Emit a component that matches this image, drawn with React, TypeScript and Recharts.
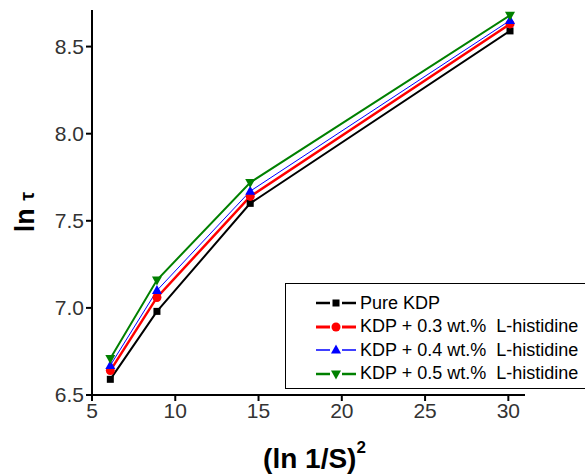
import { LineChart, Line, XAxis, YAxis } from 'recharts'

const lnInvS2 = [6.1, 8.9, 14.5, 30.1]
const pureKdp = [6.59, 6.98, 7.60, 8.59]
const kdp03 = [6.64, 7.06, 7.64, 8.63]
const kdp04 = [6.67, 7.10, 7.67, 8.65]
const kdp05 = [6.71, 7.16, 7.72, 8.68]

const xTicks = [5, 10, 15, 20, 25, 30]
const yTicks = [6.5, 7.0, 7.5, 8.0, 8.5]

const seriesNames = [
  'Pure KDP',
  'KDP + 0.3 wt.%  L-histidine',
  'KDP + 0.4 wt.%  L-histidine',
  'KDP + 0.5 wt.%  L-histidine',
]

const data = lnInvS2.map((x, i) => ({
  x,
  pure: pureKdp[i],
  k03: kdp03[i],
  k04: kdp04[i],
  k05: kdp05[i],
}))

type Shape = 'square' | 'circle' | 'up' | 'down'

function marker(shape: Shape, color: string, cx: number, cy: number, key?: string) {
  const r = 4.5
  if (shape === 'square') return <rect key={key} x={cx - 3.5} y={cy - 3.5} width={7} height={7} fill={color} />
  if (shape === 'circle') return <circle key={key} cx={cx} cy={cy} r={r} fill={color} />
  if (shape === 'up')
    return <polygon key={key} points={`${cx},${cy - r - 1} ${cx - r - 0.5},${cy + r - 1} ${cx + r + 0.5},${cy + r - 1}`} fill={color} />
  return <polygon key={key} points={`${cx},${cy + r + 1} ${cx - r - 0.5},${cy - r + 1} ${cx + r + 0.5},${cy - r + 1}`} fill={color} />
}

const series = [
  { key: 'pure', color: '#000000', width: 2, shape: 'square' as Shape },
  { key: 'k03', color: '#ff0000', width: 2.5, shape: 'circle' as Shape },
  { key: 'k04', color: '#0000ff', width: 1, shape: 'up' as Shape },
  { key: 'k05', color: '#008000', width: 2, shape: 'down' as Shape },
]

const font = 'Arial, "Liberation Sans", sans-serif'

function LegendBox() {
  return (
    <div
      style={{
        position: 'absolute',
        left: 285,
        top: 283,
        width: 310,
        height: 104,
        border: '1.5px solid #000',
        background: '#fff',
        fontFamily: font,
        fontSize: 18,
        color: '#000',
      }}
    >
      {series.map((s, i) => (
        <div key={s.key} style={{ position: 'absolute', left: 28, top: 8 + i * 23.5, height: 22, display: 'flex', alignItems: 'center' }}>
          <svg width={46} height={22}>
            <line x1={2} x2={16} y1={11} y2={11} stroke={s.color} strokeWidth={s.width + 0.5} />
            <line x1={28} x2={42} y1={11} y2={11} stroke={s.color} strokeWidth={s.width + 0.5} />
            {marker(s.shape, s.color, 22, 11)}
          </svg>
          <span style={{ whiteSpace: 'pre' }}>{seriesNames[i]}</span>
        </div>
      ))}
    </div>
  )
}

export default function App() {
  return (
    <div style={{ position: 'absolute', left: 0, top: 0, width: 585, height: 475, background: '#fff', overflow: 'hidden' }}>
      <LineChart width={585} height={475} data={data} margin={{ top: 10, right: 60, bottom: 0, left: 0 }}>
        <XAxis
          dataKey="x"
          type="number"
          domain={[5, 31]}
          ticks={xTicks}
          allowDataOverflow
          stroke="#000"
          strokeWidth={2}
          tickSize={6}
          height={80}
          tick={{ fill: '#333', fontSize: 21, fontFamily: font }}
          tickLine={{ stroke: '#000', strokeWidth: 2 }}
          label={({ viewBox }: any) => {
            const cx = viewBox.x + viewBox.width / 2
            return (
              <text x={cx + 6} y={468} textAnchor="middle" fontFamily={font} fontWeight="bold" fontSize={28} fill="#000">
                (ln 1/S)
                <tspan dy={-15} fontSize={17}>2</tspan>
              </text>
            )
          }}
        />
        <YAxis
          type="number"
          domain={[6.5, 8.71]}
          ticks={yTicks}
          allowDataOverflow
          width={92}
          stroke="#000"
          strokeWidth={2}
          tickSize={6}
          tickFormatter={(v: number) => v.toFixed(1)}
          tick={{ fill: '#333', fontSize: 21, fontFamily: font }}
          tickLine={{ stroke: '#000', strokeWidth: 2 }}
          label={() => (
            <text x={0} y={0} transform="translate(34,212) rotate(-90)" textAnchor="middle" fontFamily={font} fontWeight="bold" fontSize={27} fill="#000">
              ln <tspan fontSize={20}>τ</tspan>
            </text>
          )}
        />
        {series.map((s) => (
          <Line
            key={s.key}
            dataKey={s.key}
            type="linear"
            stroke={s.color}
            strokeWidth={s.width}
            isAnimationActive={false}
            dot={(p: any) => marker(s.shape, s.color, p.cx, p.cy, `${s.key}-${p.index}`)}
            activeDot={false}
          />
        ))}
      </LineChart>
      <LegendBox />
    </div>
  )
}
